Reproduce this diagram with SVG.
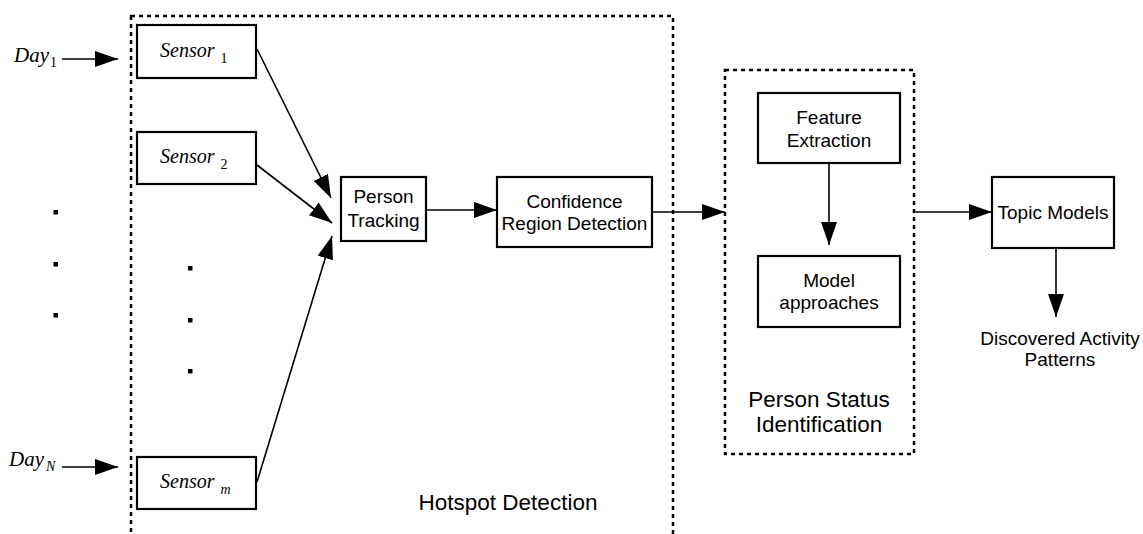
<svg xmlns="http://www.w3.org/2000/svg" width="1143" height="534" viewBox="0 0 1143 534">
<defs>
<marker id="ah" markerUnits="userSpaceOnUse" markerWidth="23" markerHeight="16" refX="23" refY="8" orient="auto">
<path d="M0,0 L23,8 L0,16 z" fill="#000"/>
</marker>
<style>
.box{fill:#fff;stroke:#000;stroke-width:2.2}
.grp{fill:none;stroke:#000;stroke-width:2.5;stroke-dasharray:4 4}
.ln{stroke:#000;stroke-width:1.6;fill:none;marker-end:url(#ah)}
.lbl{font-family:"Liberation Sans",Arial,sans-serif;font-size:19px;fill:#000;text-anchor:middle}
.big{font-family:"Liberation Sans",Arial,sans-serif;font-size:22.5px;fill:#000;text-anchor:middle}
.it{font-family:"Liberation Serif","Times New Roman",serif;font-style:italic;fill:#000}
.up{font-style:normal}
.dot{fill:#000}
</style>
</defs>
<rect width="1143" height="534" fill="#fff"/>
<g id="hotspot-detection">
<rect class="grp" x="131" y="16" width="542" height="540"/>
<text class="big" x="508" y="510">Hotspot Detection</text>
</g>
<g id="person-status-identification">
<rect class="grp" x="725" y="70" width="189" height="384"/>
<text class="big" x="819" y="407">Person Status</text>
<text class="big" x="819" y="432">Identification</text>
</g>
<g id="day1"><text class="it" x="14" y="62" font-size="21">Day<tspan class="up" font-size="14" dy="5" dx="1">1</tspan></text></g>
<g id="dayN"><text class="it" x="9" y="466" font-size="21">Day<tspan font-size="14" dy="5" dx="2">N</tspan></text></g>
<g id="sensor1"><rect class="box" x="137" y="25" width="119" height="53"/><text class="it" x="160" y="57" font-size="20">Sensor<tspan class="up" font-size="14" dx="6" dy="6">1</tspan></text></g>
<g id="sensor2"><rect class="box" x="137" y="132" width="119" height="52"/><text class="it" x="160" y="163" font-size="20">Sensor<tspan class="up" font-size="14" dx="6" dy="6">2</tspan></text></g>
<g id="sensorm"><rect class="box" x="137" y="457" width="119" height="52"/><text class="it" x="160" y="488" font-size="20">Sensor<tspan font-size="14" dx="6" dy="6">m</tspan></text></g>
<g id="person-tracking"><rect class="box" x="341" y="177" width="85" height="64"/><text class="lbl" x="383.5" y="203">Person</text><text class="lbl" x="383.5" y="227">Tracking</text></g>
<g id="confidence-region"><rect class="box" x="497" y="177" width="155" height="70"/><text class="lbl" x="574.5" y="208">Confidence</text><text class="lbl" x="574.5" y="230">Region Detection</text></g>
<g id="feature-extraction"><rect class="box" x="758" y="93" width="142" height="70"/><text class="lbl" x="829" y="124">Feature</text><text class="lbl" x="829" y="147">Extraction</text></g>
<g id="model-approaches"><rect class="box" x="758" y="256" width="142" height="71"/><text class="lbl" x="829" y="287">Model</text><text class="lbl" x="829" y="309">approaches</text></g>
<g id="topic-models"><rect class="box" x="992" y="177" width="122" height="71"/><text class="lbl" x="1053" y="219">Topic Models</text></g>
<g id="discovered"><text class="lbl" x="1060" y="345">Discovered Activity</text><text class="lbl" x="1060" y="366">Patterns</text></g>
<g id="ellipsis">
<rect class="dot" x="53.5" y="210" width="4.5" height="4.5"/>
<rect class="dot" x="53.5" y="262" width="4.5" height="4.5"/>
<rect class="dot" x="53.5" y="313" width="4.5" height="4.5"/>
<rect class="dot" x="188" y="266" width="4.5" height="4.5"/>
<rect class="dot" x="188" y="318" width="4.5" height="4.5"/>
<rect class="dot" x="188" y="369" width="4.5" height="4.5"/>
</g>
<g id="connectors">
<line class="ln" x1="62" y1="59" x2="118" y2="59"/>
<line class="ln" x1="62" y1="467" x2="118" y2="467"/>
<line class="ln" x1="257" y1="49" x2="331" y2="198"/>
<line class="ln" x1="257" y1="165" x2="332" y2="223"/>
<line class="ln" x1="257" y1="482" x2="332" y2="236"/>
<line class="ln" x1="426" y1="210" x2="497" y2="210"/>
<line class="ln" x1="652" y1="212" x2="725" y2="212"/>
<line class="ln" x1="829" y1="163" x2="829" y2="245"/>
<line class="ln" x1="914" y1="212" x2="992" y2="212"/>
<line class="ln" x1="1056" y1="248" x2="1056" y2="317"/>
</g>
</svg>
